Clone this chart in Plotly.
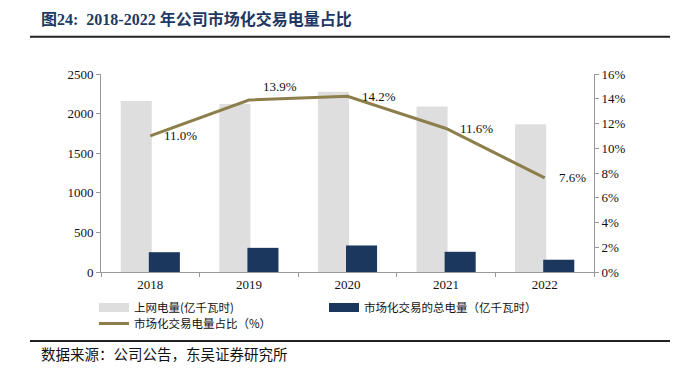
import plotly.graph_objects as go

years = ["2018", "2019", "2020", "2021", "2022"]
grid_power = [2160, 2120, 2275, 2090, 1865]          # 上网电量(亿千瓦时)
market_power = [250, 305, 335, 255, 155]             # 市场化交易的总电量（亿千瓦时）
market_share = [11.0, 13.9, 14.2, 11.6, 7.6]         # 市场化交易电量占比（%）
share_labels = ["11.0%", "13.9%", "14.2%", "11.6%", "7.6%"]
left_ticks = [0, 500, 1000, 1500, 2000, 2500]
right_ticks = [0, 2, 4, 6, 8, 10, 12, 14, 16]

GREY = "#DEDEDE"
NAVY = "#1B375E"
OLIVE = "#8C7F4C"
SERIF = "Liberation Serif, Times New Roman, serif"
CJK = "Noto Sans CJK SC, sans-serif"

# The page body has an 8px margin; lay out in window pixels and shift by it.
OFF = 8
W, H = 690 - OFF, 368 - OFF
L, R, T, B = 101 - OFF, 96, 74 - OFF, 96
pw, ph = W - L - R, H - T - B


def px(xw):
    return (xw - OFF - L) / pw


def py(yw):
    return (H - B - (yw - OFF)) / ph


fig = go.Figure()
fig.add_trace(go.Bar(x=years, y=grid_power, width=0.315, offset=-0.30,
                     marker=dict(color=GREY, line=dict(width=0)), showlegend=False))
fig.add_trace(go.Bar(x=years, y=market_power, width=0.315, offset=-0.015,
                     marker=dict(color=NAVY, line=dict(width=0)), showlegend=False))
fig.add_trace(go.Scatter(x=years, y=market_share, yaxis="y2", mode="lines",
                         line=dict(color=OLIVE, width=3), showlegend=False))

# legend entries (no data of their own)
fig.add_trace(go.Scatter(x=[years[0]], y=[None], mode="lines", name="上网电量(亿千瓦时)",
                         line=dict(color=GREY, width=9), legend="legend"))
fig.add_trace(go.Scatter(x=[years[0]], y=[None], mode="lines", name="市场化交易的总电量（亿千瓦时）",
                         line=dict(color=NAVY, width=9), legend="legend"))
fig.add_trace(go.Scatter(x=[years[0]], y=[None], mode="lines", name="市场化交易电量占比（%）",
                         line=dict(color=OLIVE, width=3), legend="legend2"))

annotations = []
for i, (v, lab) in enumerate(zip(market_share, share_labels)):
    annotations.append(dict(x=i, y=v, xref="x", yref="y2", text=lab, showarrow=False,
                            xanchor="left", yanchor="middle", xshift=12,
                            yshift=13 if i == 1 else 0,
                            font=dict(family=SERIF, size=13, color="#111111")))

annotations.append(dict(x=px(39), y=py(19), xref="paper", yref="paper",
                        text="<b>图24:  2018-2022 年公司市场化交易电量占比</b>",
                        showarrow=False, xanchor="left", yanchor="middle",
                        font=dict(family="Liberation Serif, Noto Sans CJK SC", size=16, color="#1F3864")))
annotations.append(dict(x=px(39), y=py(353), xref="paper", yref="paper",
                        text="数据来源：公司公告，东吴证券研究所",
                        showarrow=False, xanchor="left", yanchor="middle",
                        font=dict(family=CJK, size=14.5, color="#111111")))

shapes = []
for yy in (36.7, 341):
    shapes.append(dict(type="line", xref="paper", yref="paper",
                       x0=px(30), x1=px(670), y0=py(yy), y1=py(yy),
                       line=dict(color="#222222", width=2)))

fig.update_layout(
    width=W, height=H,
    margin=dict(l=L, r=R, t=T, b=B, autoexpand=False),
    paper_bgcolor="white", plot_bgcolor="white",
    barmode="overlay",
    font=dict(family=SERIF, size=13, color="#111111"),
    xaxis=dict(type="category", categoryorder="array", categoryarray=years, range=[-0.5, 4.5],
               showline=True, linecolor="#999999", linewidth=1, automargin=False,
               ticks="outside", tickson="boundaries", ticklen=4, tickcolor="#999999",
               showgrid=False, tickfont=dict(family=SERIF, size=13), tickangle=0),
    yaxis=dict(range=[0, 2500], tickvals=left_ticks, showline=True, linecolor="#999999",
               ticks="outside", ticklen=4, tickcolor="#999999", showgrid=False, zeroline=False,
               automargin=False, tickfont=dict(family=SERIF, size=13)),
    yaxis2=dict(range=[0, 16], tickvals=right_ticks, ticktext=[f"{t}%" for t in right_ticks],
                overlaying="y", side="right", showline=True, linecolor="#999999",
                ticks="outside", ticklen=4, tickcolor="#999999", showgrid=False, zeroline=False,
                automargin=False, tickfont=dict(family=SERIF, size=13)),
    legend=dict(orientation="h", x=px(94), y=py(293), xanchor="left", yanchor="top",
                entrywidth=185, entrywidthmode="pixels", itemwidth=30,
                font=dict(family=CJK, size=11.5, color="#111111"), tracegroupgap=0,
                bgcolor="rgba(0,0,0,0)"),
    legend2=dict(orientation="h", x=px(94), y=py(309), xanchor="left", yanchor="top",
                 itemwidth=30, font=dict(family=CJK, size=11.5, color="#111111"),
                 bgcolor="rgba(0,0,0,0)"),
    annotations=annotations,
    shapes=shapes,
)

fig.write_html("out.html")
